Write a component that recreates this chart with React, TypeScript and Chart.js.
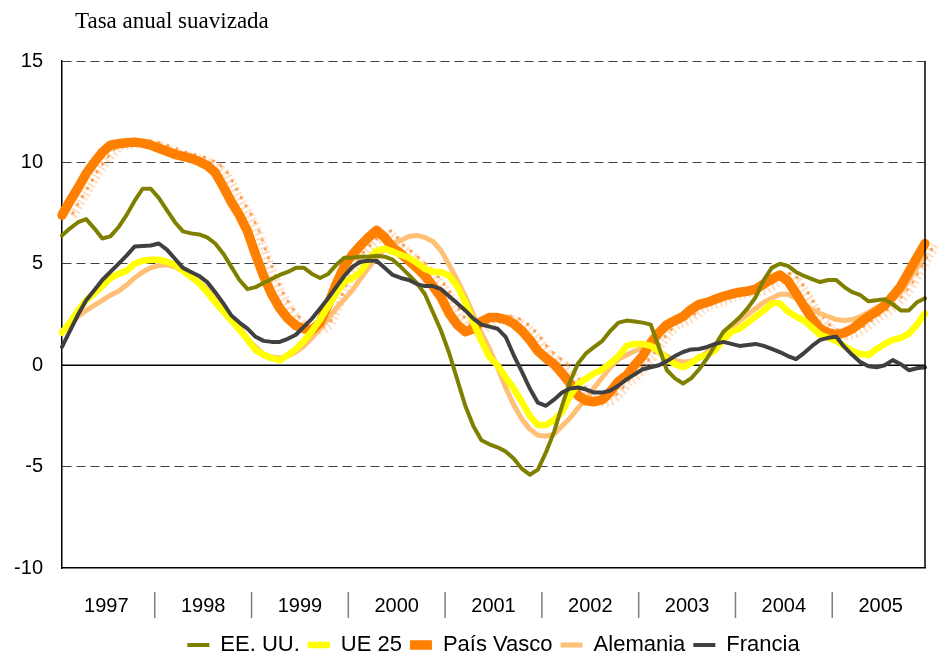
import React, { useEffect, useRef } from "react";
import { Chart, registerables } from "chart.js";

Chart.register(...registerables);

const TITLE = "Tasa anual suavizada";
const YEARS = ["1997", "1998", "1999", "2000", "2001", "2002", "2003", "2004", "2005"];
const MONTHS = ["ene", "feb", "mar", "abr", "may", "jun", "jul", "ago", "sep", "oct", "nov", "dic"];
const Y_MIN = -10;
const Y_MAX = 15;
const Y_STEP = 5;

const SERIES_NAMES = ["EE. UU.", "UE 25", "País Vasco", "Alemania", "Francia"];

const eeuu = [
  6.4, 6.75, 7.05, 7.2, 6.75, 6.25, 6.35, 6.8, 7.4, 8.1, 8.7, 8.7,
  8.25, 7.65, 7.05, 6.6, 6.5, 6.45, 6.3, 6.0, 5.5, 4.85, 4.2, 3.75,
  3.85, 4.05, 4.25, 4.45, 4.6, 4.8, 4.8, 4.5, 4.3, 4.5, 4.95, 5.3,
  5.3, 5.35, 5.35, 5.4, 5.35, 5.2, 4.85, 4.45, 4.05, 3.5, 2.6, 1.7,
  0.6, -0.7, -2.0, -3.0, -3.7, -3.9, -4.05, -4.25, -4.6, -5.1, -5.4, -5.15,
  -4.3, -3.3, -2.0, -0.8, 0.1, 0.6, 0.9, 1.2, 1.7, 2.1, 2.2, 2.15,
  2.1, 2.0, 0.9, -0.25, -0.65, -0.9, -0.65, -0.2, 0.35, 1.0, 1.65, 2.0,
  2.35, 2.8, 3.35, 4.2, 4.8, 5.0, 4.9, 4.6, 4.4, 4.25, 4.1, 4.2,
  4.2, 3.85, 3.6, 3.45, 3.15, 3.2, 3.25, 3.0, 2.7, 2.7, 3.1, 3.3,
];

const ue25 = [
  1.6, 2.1, 2.7, 3.2, 3.55, 3.9, 4.3, 4.5, 4.65, 5.0, 5.15, 5.2,
  5.2, 5.1, 4.95, 4.65, 4.35, 4.05, 3.6, 3.1, 2.65, 2.2, 1.75, 1.25,
  0.75, 0.5, 0.35, 0.25, 0.5, 0.8, 1.2, 1.7, 2.25, 2.9, 3.55, 4.1,
  4.3, 4.6, 5.2, 5.65, 5.75, 5.6, 5.45, 5.3, 5.05, 4.75, 4.6, 4.6,
  4.4, 3.9, 3.1, 2.1, 1.2, 0.4, 0.0, -0.6, -1.15, -1.8, -2.5, -2.95,
  -2.95, -2.7, -2.3, -1.5, -0.95, -0.65, -0.4, -0.2, 0.1, 0.45, 0.95, 1.05,
  1.05, 0.95, 0.7, 0.3, 0.05, -0.1, 0.1, 0.4, 0.5, 0.75, 1.25, 1.65,
  1.8, 2.1, 2.4, 2.7, 3.05, 3.05, 2.65, 2.4, 2.2, 1.85, 1.5, 1.35,
  1.2, 0.95, 0.7, 0.55, 0.5, 0.8, 1.05, 1.25, 1.35, 1.55, 2.0, 2.55,
];

const paisVasco = [
  7.4, 8.1, 8.75, 9.45, 10.0, 10.5, 10.85, 10.92, 10.97, 11.0, 10.95, 10.85,
  10.7, 10.55, 10.4, 10.3, 10.2, 10.05, 9.85, 9.5, 8.8, 8.05, 7.4, 6.6,
  5.45, 4.4, 3.5, 2.8, 2.3, 1.95, 1.8, 1.75, 2.1, 3.0, 4.0, 4.9,
  5.45, 5.9, 6.3, 6.65, 6.3, 5.8, 5.5, 5.15, 4.8, 4.4, 3.9, 3.35,
  2.55, 2.0, 1.65, 1.8, 2.15, 2.35, 2.35, 2.25, 2.05, 1.7, 1.25, 0.7,
  0.35, 0.05, -0.4, -0.9, -1.5, -1.75, -1.8, -1.7, -1.3, -0.8, -0.5, 0.0,
  0.45, 1.1, 1.6, 2.0, 2.2, 2.4, 2.75, 3.0, 3.1, 3.25, 3.4, 3.5,
  3.6, 3.65, 3.75, 4.0, 4.25, 4.45, 4.15, 3.55, 2.9, 2.3, 1.8, 1.6,
  1.5, 1.6, 1.8, 2.1, 2.4, 2.65, 2.95, 3.4, 3.9, 4.6, 5.3, 6.0,
];

const alemania = [
  1.7, 2.0, 2.4, 2.7, 2.95, 3.2, 3.45, 3.65, 3.95, 4.3, 4.6, 4.8,
  4.92, 4.95, 4.85, 4.65, 4.4, 4.1, 3.75, 3.35, 2.85, 2.35, 1.9, 1.3,
  0.9, 0.55, 0.4, 0.35, 0.45, 0.65, 0.95, 1.35, 1.8, 2.3, 2.8, 3.25,
  3.7, 4.25, 4.8, 5.3, 5.75, 6.0, 6.15, 6.35, 6.4, 6.3, 6.1, 5.65,
  4.95, 4.2, 3.4, 2.5, 1.6, 0.8, -0.1, -1.1, -1.95, -2.65, -3.15, -3.45,
  -3.5, -3.4, -3.0, -2.6, -2.1, -1.65, -1.1, -0.6, -0.1, 0.3, 0.5, 0.7,
  0.85, 0.85, 0.7, 0.45, 0.25, 0.15, 0.2, 0.35, 0.65, 1.0, 1.45, 1.85,
  2.2, 2.5, 2.8, 3.1, 3.3, 3.5, 3.5, 3.3, 3.0, 2.75, 2.55, 2.4,
  2.25, 2.2, 2.25, 2.4, 2.6, 2.85, 3.0, 3.3, 3.6, 4.2, 4.8, 5.4,
];

const francia = [
  0.9, 1.7, 2.5, 3.2, 3.7, 4.2, 4.6, 5.0, 5.4, 5.85, 5.88, 5.9,
  6.0, 5.7, 5.25, 4.8, 4.6, 4.4, 4.1, 3.6, 3.05, 2.45, 2.1, 1.8,
  1.4, 1.2, 1.15, 1.15, 1.3, 1.5, 1.9, 2.3, 2.8, 3.3, 3.85, 4.4,
  4.85, 5.1, 5.15, 5.15, 4.8, 4.45, 4.3, 4.2, 4.0, 3.9, 3.9, 3.75,
  3.4, 3.05, 2.7, 2.3, 2.0, 1.9, 1.8, 1.4, 0.5, -0.3, -1.15, -1.85,
  -2.0, -1.7, -1.35, -1.15, -1.1, -1.2, -1.35, -1.35, -1.25, -1.0, -0.7, -0.45,
  -0.2, -0.1, 0.0, 0.2, 0.45, 0.65, 0.78, 0.8, 0.9, 1.05, 1.15, 1.05,
  0.95, 1.0, 1.05, 0.95, 0.8, 0.65, 0.45, 0.3, 0.6, 0.95, 1.25, 1.35,
  1.4, 0.9, 0.5, 0.15, -0.05, -0.1, 0.0, 0.25, 0.05, -0.25, -0.15, -0.1,
];

const FONT = "'Liberation Sans', Arial, Helvetica, sans-serif";
const PV_INDEX = 2;

export default function App() {
  const canvasRef = useRef<HTMLCanvasElement | null>(null);

  useEffect(() => {
    const canvas = canvasRef.current;
    if (!canvas) return;
    const labels = YEARS.flatMap((y) => MONTHS.map((m) => `${m} ${y}`));

    const decor = {
      id: "decor",
      beforeDatasetsDraw(chart: any) {
        const { ctx, chartArea, scales } = chart;
        const y0 = scales.y.getPixelForValue(0);
        ctx.save();
        ctx.strokeStyle = "#000";
        ctx.lineWidth = 1.5;
        ctx.beginPath();
        ctx.moveTo(chartArea.left, y0);
        ctx.lineTo(chartArea.right, y0);
        ctx.stroke();

        // patterned shadow of the País Vasco line
        const meta = chart.getDatasetMeta(PV_INDEX);
        const path = (dx: number, dy: number) => {
          ctx.beginPath();
          meta.data.forEach((p: any, i: number) => {
            const x = p.x + dx;
            const y = p.y + dy;
            if (i === 0) ctx.moveTo(x, y);
            else ctx.lineTo(x, y);
          });
        };
        ctx.lineJoin = "round";
        path(11, 1);
        ctx.lineWidth = 9;
        ctx.strokeStyle = "rgba(255,170,100,0.4)";
        ctx.setLineDash([2, 3]);
        ctx.stroke();
        path(11, -2);
        ctx.lineWidth = 3;
        ctx.lineCap = "round";
        ctx.strokeStyle = "rgba(255,130,30,0.7)";
        ctx.setLineDash([0.5, 9]);
        ctx.stroke();
        ctx.restore();
      },
      afterDraw(chart: any) {
        const { ctx, chartArea, scales } = chart;
        const xs = scales.x;
        ctx.save();
        ctx.strokeStyle = "#000";
        ctx.lineWidth = 1.5;
        ctx.beginPath();
        ctx.moveTo(chartArea.right, chartArea.top);
        ctx.lineTo(chartArea.right, chartArea.bottom);
        ctx.stroke();

        ctx.font = `20px ${FONT}`;
        ctx.fillStyle = "#000";
        ctx.textAlign = "center";
        ctx.textBaseline = "middle";
        YEARS.forEach((yr, k) => {
          const cx = xs.getPixelForValue(12 * k + 5.5);
          ctx.fillText(yr, cx, chartArea.bottom + 38);
          if (k > 0) {
            const sx = xs.getPixelForValue(12 * k - 0.5);
            ctx.strokeStyle = "#7f7f7f";
            ctx.lineWidth = 1.5;
            ctx.beginPath();
            ctx.moveTo(sx, chartArea.bottom + 24);
            ctx.lineTo(sx, chartArea.bottom + 50);
            ctx.stroke();
          }
        });
        ctx.restore();
      },
    };

    const mk = (label: string, data: number[], color: string, width: number, order: number) => ({
      label,
      data,
      borderColor: color,
      backgroundColor: color,
      borderWidth: width,
      pointRadius: 0,
      pointHoverRadius: 0,
      tension: 0,
      fill: false,
      order,
      borderCapStyle: "round",
      borderJoinStyle: "round",
    });

    const chart = new Chart(canvas, {
      type: "line",
      data: {
        labels,
        datasets: [
          mk(SERIES_NAMES[0], eeuu, "#808000", 4, 1),
          mk(SERIES_NAMES[1], ue25, "#FFFF00", 6.5, 2),
          mk(SERIES_NAMES[2], paisVasco, "#FF8000", 9.5, 3),
          mk(SERIES_NAMES[3], alemania, "#FFBF75", 5, 4),
          mk(SERIES_NAMES[4], francia, "#404040", 4, 0),
        ] as any,
      },
      options: {
        responsive: false,
        animation: false,
        events: [],
        layout: { padding: { left: 0, right: 13, top: 61, bottom: -10 } },
        plugins: {
          title: { display: false },
          tooltip: { enabled: false },
          legend: {
            position: "bottom",
            fullSize: false,
            labels: {
              usePointStyle: true,
              pointStyle: "line",
              pointStyleWidth: 22,
              color: "#000",
              font: { family: FONT, size: 22 },
              padding: 8,
              sort: (a: any, b: any) => a.datasetIndex - b.datasetIndex,
            },
          },
        },
        scales: {
          x: {
            type: "category",
            ticks: { display: false },
            grid: { display: false, drawTicks: false },
            border: { display: true, color: "#000", width: 1.5 },
            afterFit: (s: any) => {
              s.height = 58;
            },
          },
          y: {
            min: Y_MIN,
            max: Y_MAX,
            ticks: {
              stepSize: Y_STEP,
              color: "#000",
              font: { family: FONT, size: 20 },
              padding: 19,
            },
            grid: {
              drawTicks: false,
              lineWidth: 1,
              color: (c: any) =>
                c.tick && (c.tick.value === 0 || c.tick.value === Y_MIN) ? "rgba(0,0,0,0)" : "#404040",
            },
            border: { display: true, color: "#000", width: 1.5, dash: [9, 5] },
            afterFit: (s: any) => {
              s.width = 62;
            },
          },
        },
      },
      plugins: [decor],
    } as any);

    return () => chart.destroy();
  }, []);

  return (
    <div style={{ position: "absolute", left: 0, top: 0, width: 938, height: 656, overflow: "hidden", background: "#fff" }}>
      <canvas ref={canvasRef} width={938} height={656} style={{ display: "block" }} />
      <div
        style={{
          position: "absolute",
          left: 75,
          top: 9,
          fontFamily: "'Liberation Serif', 'Times New Roman', serif",
          fontSize: 23,
          lineHeight: "23px",
          color: "#000",
          whiteSpace: "nowrap",
        }}
      >
        {TITLE}
      </div>
    </div>
  );
}
